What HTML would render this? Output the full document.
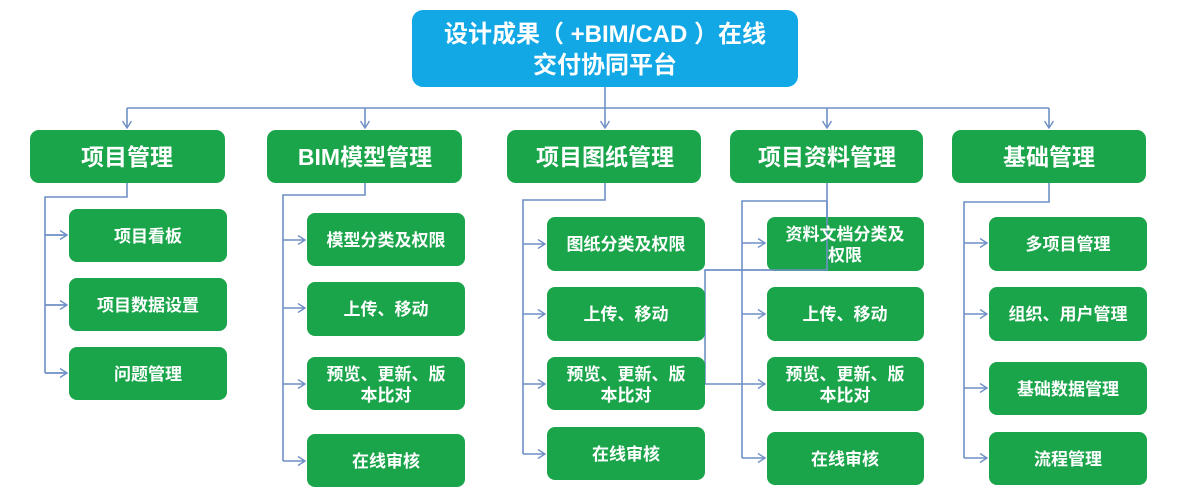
<!DOCTYPE html>
<html><head><meta charset="utf-8"><style>
html,body{margin:0;padding:0;background:#fff;}
svg{display:block;}
text{font-family:"Liberation Sans","Noto Sans CJK SC",sans-serif;font-weight:bold;fill:#fff;text-anchor:middle;}
.l{stroke:#6f8fc6;stroke-width:1.6;fill:none;}
.g{fill:#1aa54a;}
</style></head><body>
<svg width="1183" height="500" viewBox="0 0 1183 500" xmlns="http://www.w3.org/2000/svg">
<defs><marker id="a" markerWidth="10" markerHeight="10" refX="8" refY="5" orient="auto" markerUnits="userSpaceOnUse"><path d="M1,0.5 L8,5 L1,9.5" fill="none" stroke="#6f8fc6" stroke-width="1.4"/></marker></defs>
<rect x="412" y="10" width="386" height="77" rx="11" fill="#12a8e6"/>
<text x="605" y="42" font-size="24">设计成果（ +BIM/CAD ）在线</text>
<text x="605" y="73" font-size="24">交付协同平台</text>
<path class="l" d="M605 87V108M127 108H1049"/>
<g class="l" marker-end="url(#a)">
<path d="M127 108V128" marker-end="url(#a)"/><path d="M365 108V128" marker-end="url(#a)"/><path d="M605 108V128" marker-end="url(#a)"/><path d="M827 108V128" marker-end="url(#a)"/><path d="M1049 108V128" marker-end="url(#a)"/>
</g>
<g class="g">
<rect x="30" y="130" width="195" height="53" rx="9"/><rect x="267" y="130" width="195" height="53" rx="9"/><rect x="507" y="130" width="194" height="53" rx="9"/><rect x="730" y="130" width="193" height="53" rx="9"/><rect x="952" y="130" width="194" height="53" rx="9"/>
</g>
<g font-size="23">
<text x="127" y="165">项目管理</text><text x="365" y="165">BIM模型管理</text><text x="605" y="165">项目图纸管理</text><text x="827" y="165">项目资料管理</text><text x="1049" y="165">基础管理</text>
</g>
<!-- connectors -->
<path class="l" d="M127 183V197H45V373"/>
<path class="l" d="M45 235H67M45 305H67M45 373H67" />
<path class="l" d="M45 235H67" marker-end="url(#a)"/><path class="l" d="M45 305H67" marker-end="url(#a)"/><path class="l" d="M45 373H67" marker-end="url(#a)"/>
<path class="l" d="M365 183V195H283V461"/>
<path class="l" d="M283 240H305" marker-end="url(#a)"/><path class="l" d="M283 308H305" marker-end="url(#a)"/><path class="l" d="M283 384H305" marker-end="url(#a)"/><path class="l" d="M283 461H305" marker-end="url(#a)"/>
<path class="l" d="M605 183V200H523V454"/>
<path class="l" d="M523 244H545" marker-end="url(#a)"/><path class="l" d="M523 314H545" marker-end="url(#a)"/><path class="l" d="M523 384H545" marker-end="url(#a)"/><path class="l" d="M523 454H545" marker-end="url(#a)"/>
<path class="l" d="M827 183V201H742V458"/>
<path class="l" d="M742 243H765" marker-end="url(#a)"/><path class="l" d="M742 314H765" marker-end="url(#a)"/><path class="l" d="M742 458H765" marker-end="url(#a)"/>
<path class="l" d="M827 201V270H705V384H765" marker-end="url(#a)"/>
<path class="l" d="M1049 183V202H964V458"/>
<path class="l" d="M964 243H987" marker-end="url(#a)"/><path class="l" d="M964 314H987" marker-end="url(#a)"/><path class="l" d="M964 388H987" marker-end="url(#a)"/><path class="l" d="M964 458H987" marker-end="url(#a)"/>
<g class="g">
<rect x="69" y="209" width="158" height="53" rx="8"/><rect x="69" y="278" width="158" height="53" rx="8"/><rect x="69" y="347" width="158" height="53" rx="8"/>
<rect x="307" y="213" width="158" height="53" rx="8"/><rect x="307" y="282" width="158" height="54" rx="8"/><rect x="307" y="357" width="158" height="53" rx="8"/><rect x="307" y="434" width="158" height="53" rx="8"/>
<rect x="547" y="217" width="158" height="54" rx="8"/><rect x="547" y="287" width="158" height="54" rx="8"/><rect x="547" y="357" width="158" height="53" rx="8"/><rect x="547" y="427" width="158" height="53" rx="8"/>
<rect x="767" y="217" width="157" height="54" rx="8"/><rect x="767" y="287" width="157" height="54" rx="8"/><rect x="767" y="357" width="157" height="54" rx="8"/><rect x="767" y="432" width="157" height="53" rx="8"/>
<rect x="989" y="217" width="158" height="54" rx="8"/><rect x="989" y="287" width="158" height="54" rx="8"/><rect x="989" y="362" width="158" height="53" rx="8"/><rect x="989" y="432" width="158" height="53" rx="8"/>
</g>
<path class="l" d="M827 201V270H705"/>
<g font-size="17">
<text x="148" y="242">项目看板</text><text x="148" y="311">项目数据设置</text><text x="148" y="380">问题管理</text>
<text x="386" y="246">模型分类及权限</text><text x="386" y="315">上传、移动</text><text x="386" y="380">预览、更新、版</text><text x="386" y="401">本比对</text><text x="386" y="467">在线审核</text>
<text x="626" y="250">图纸分类及权限</text><text x="626" y="320">上传、移动</text><text x="626" y="380">预览、更新、版</text><text x="626" y="401">本比对</text><text x="626" y="460">在线审核</text>
<text x="845" y="240">资料文档分类及</text><text x="845" y="261">权限</text><text x="845" y="320">上传、移动</text><text x="845" y="380">预览、更新、版</text><text x="845" y="401">本比对</text><text x="845" y="465">在线审核</text>
<text x="1068" y="250">多项目管理</text><text x="1068" y="320">组织、用户管理</text><text x="1068" y="395">基础数据管理</text><text x="1068" y="465">流程管理</text>
</g>
</svg>
</body></html>
